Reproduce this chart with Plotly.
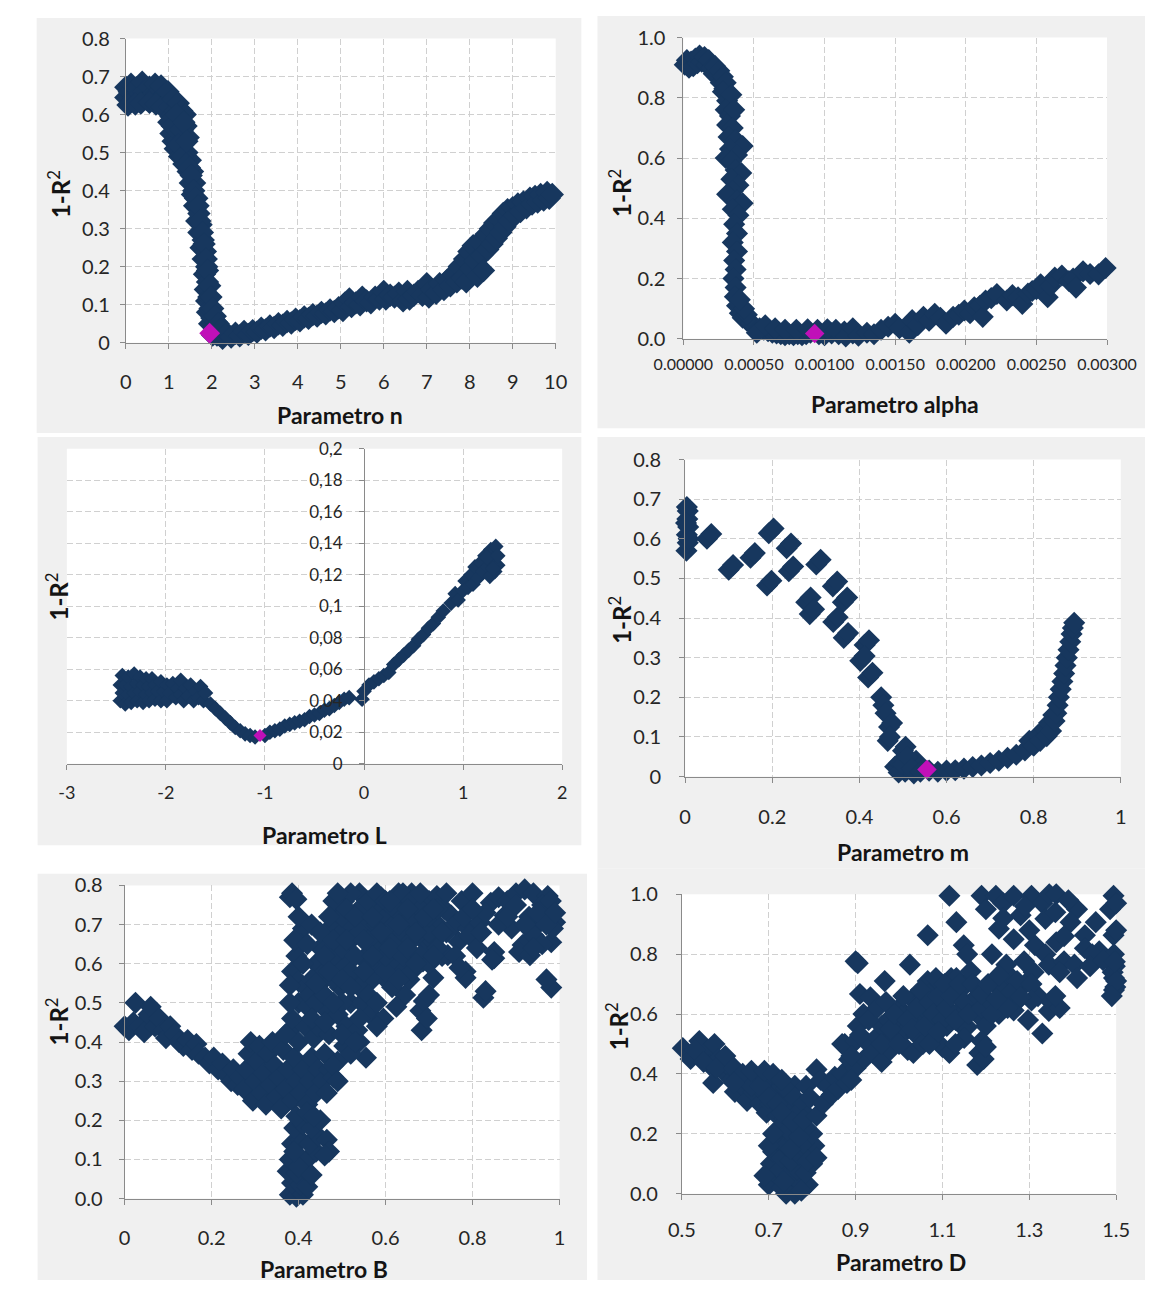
import plotly.graph_objects as go

# ---------------------------------------------------------------------------
# Sensitivity sweeps: (parameter value, 1 - R^2)
# ---------------------------------------------------------------------------
n_points = [
    (0.00, 0.645), (0.00, 0.672), (0.08, 0.660), (0.12, 0.680), (0.18, 0.645),
    (0.25, 0.670), (0.30, 0.650), (0.38, 0.685), (0.42, 0.660), (0.48, 0.640),
    (0.55, 0.672), (0.60, 0.650), (0.68, 0.680), (0.72, 0.655), (0.78, 0.640),
    (0.82, 0.675), (0.88, 0.650), (0.92, 0.630), (0.05, 0.625), (0.22, 0.628),
    (0.35, 0.630), (0.55, 0.632), (0.70, 0.628), (0.85, 0.620),
    (0.98, 0.660), (1.02, 0.620), (1.05, 0.595), (1.10, 0.640), (1.12, 0.575),
    (1.15, 0.610), (1.20, 0.560), (1.22, 0.630), (1.25, 0.590), (1.30, 0.610),
    (1.32, 0.560), (1.38, 0.600), (1.40, 0.570), (1.05, 0.550), (1.10, 0.530),
    (1.15, 0.510), (1.20, 0.530), (1.25, 0.490), (1.30, 0.520), (1.35, 0.470),
    (1.38, 0.530), (1.42, 0.500), (1.45, 0.540), (1.45, 0.450), (1.50, 0.480),
    (1.50, 0.420), (1.55, 0.450), (1.55, 0.390), (1.60, 0.420), (1.60, 0.360),
    (1.65, 0.380), (1.65, 0.320), (1.70, 0.340), (1.70, 0.290), (1.75, 0.310),
    (1.75, 0.250), (1.80, 0.270), (1.80, 0.220), (1.85, 0.240), (1.83, 0.180),
    (1.88, 0.200), (1.85, 0.140), (1.90, 0.160), (1.88, 0.110), (1.93, 0.120),
    (1.90, 0.080), (1.96, 0.090), (1.95, 0.050), (2.00, 0.065), (2.05, 0.040),
    (2.10, 0.055), (2.02, 0.020), (2.12, 0.020),
    (1.00, 0.580), (1.08, 0.570), (1.18, 0.600), (1.28, 0.560), (1.35, 0.580),
    (1.22, 0.520), (1.32, 0.490), (1.40, 0.470), (1.42, 0.530), (1.48, 0.460),
    (1.52, 0.440), (1.58, 0.400), (1.62, 0.380), (1.68, 0.360), (1.72, 0.320),
    (1.78, 0.290), (1.82, 0.260), (1.87, 0.220), (1.90, 0.190), (1.95, 0.150),
    (1.98, 0.120), (2.02, 0.090), (2.08, 0.070), (2.15, 0.050), (2.18, 0.020),
    (2.20, 0.035), (2.25, 0.012), (2.35, 0.025), (2.45, 0.015), (2.55, 0.025),
    (2.65, 0.018), (2.75, 0.030), (2.85, 0.022), (2.95, 0.032), (3.05, 0.028),
    (3.15, 0.038), (3.25, 0.034), (3.35, 0.044), (3.45, 0.040), (3.55, 0.050),
    (3.65, 0.046), (3.75, 0.056), (3.85, 0.052), (3.95, 0.062), (4.05, 0.058),
    (4.15, 0.068), (4.25, 0.064), (4.35, 0.074), (4.45, 0.070), (4.55, 0.080),
    (4.65, 0.076), (4.75, 0.086), (4.85, 0.082), (4.95, 0.092), (5.05, 0.085),
    (5.10, 0.105), (5.20, 0.115), (5.25, 0.095), (5.35, 0.105), (5.45, 0.100),
    (5.50, 0.120), (5.60, 0.110), (5.70, 0.105), (5.80, 0.120), (5.90, 0.115),
    (6.00, 0.135), (6.05, 0.115), (6.15, 0.125), (6.25, 0.120), (6.35, 0.130),
    (6.45, 0.110), (6.55, 0.135), (6.60, 0.115), (6.70, 0.125), (6.80, 0.135),
    (6.90, 0.125), (7.00, 0.155), (7.05, 0.120), (7.12, 0.140), (7.22, 0.130),
    (7.30, 0.155), (7.40, 0.140), (7.48, 0.165), (7.55, 0.150), (7.62, 0.180),
    (7.70, 0.160), (7.75, 0.200), (7.82, 0.170), (7.88, 0.220), (7.92, 0.160),
    (7.98, 0.240), (8.02, 0.195), (8.08, 0.255), (8.12, 0.215), (8.18, 0.175),
    (8.22, 0.265), (8.28, 0.230), (8.32, 0.190), (8.38, 0.285), (8.42, 0.245),
    (8.48, 0.300), (8.52, 0.260), (8.58, 0.315), (8.62, 0.275), (8.68, 0.325),
    (8.72, 0.290), (8.78, 0.340), (8.82, 0.305), (8.88, 0.350), (8.92, 0.320),
    (9.00, 0.355), (9.05, 0.335), (9.12, 0.365), (9.18, 0.345), (9.25, 0.370),
    (9.32, 0.355), (9.40, 0.380), (9.45, 0.365), (9.52, 0.385), (9.58, 0.370),
    (9.65, 0.390), (9.72, 0.375), (9.80, 0.395), (9.85, 0.380), (9.92, 0.390),
]
n_best = (1.95, 0.025)

alpha_points = [
    (0.000010, 0.910), (0.000025, 0.925), (0.000040, 0.900), (0.000055, 0.920),
    (0.000070, 0.905), (0.000085, 0.930), (0.000100, 0.915), (0.000115, 0.940),
    (0.000130, 0.920), (0.000150, 0.935), (0.000165, 0.910), (0.000180, 0.925),
    (0.000200, 0.900), (0.000215, 0.880), (0.000225, 0.905), (0.000240, 0.870),
    (0.000255, 0.890), (0.000265, 0.850), (0.000280, 0.870), (0.000290, 0.830),
    (0.000300, 0.850), (0.000280, 0.820), (0.000310, 0.790), (0.000340, 0.810),
    (0.000300, 0.760), (0.000330, 0.740), (0.000360, 0.760), (0.000310, 0.710),
    (0.000350, 0.700), (0.000320, 0.670), (0.000370, 0.660), (0.000420, 0.640),
    (0.000330, 0.630), (0.000380, 0.610), (0.000300, 0.600), (0.000340, 0.590),
    (0.000370, 0.560), (0.000410, 0.550), (0.000340, 0.530), (0.000390, 0.510),
    (0.000350, 0.490), (0.000310, 0.480), (0.000380, 0.460), (0.000420, 0.450),
    (0.000350, 0.430), (0.000390, 0.410), (0.000360, 0.380), (0.000380, 0.350),
    (0.000350, 0.320), (0.000380, 0.290), (0.000360, 0.260), (0.000370, 0.230),
    (0.000355, 0.200), (0.000370, 0.170), (0.000365, 0.140), (0.000380, 0.110),
    (0.000400, 0.085), (0.000420, 0.070), (0.000450, 0.060), (0.000480, 0.050),
    (0.000510, 0.040), (0.000540, 0.035), (0.000570, 0.030), (0.000600, 0.025),
    (0.000630, 0.020), (0.000660, 0.018), (0.000690, 0.015), (0.000720, 0.012),
    (0.000750, 0.015), (0.000780, 0.012), (0.000810, 0.015), (0.000840, 0.012),
    (0.000870, 0.015), (0.000900, 0.020), (0.000960, 0.015), (0.001000, 0.012),
    (0.001050, 0.018), (0.001100, 0.015), (0.001140, 0.024), (0.001200, 0.018),
    (0.000520, 0.020), (0.000580, 0.045), (0.000650, 0.035), (0.000720, 0.030),
    (0.000800, 0.030), (0.000880, 0.032), (0.000950, 0.030), (0.001020, 0.032),
    (0.001080, 0.030), (0.001150, 0.008), (0.001200, 0.035), (0.000450, 0.080),
    (0.000430, 0.100), (0.000400, 0.130),
    (0.001240, 0.010), (0.001300, 0.020), (0.001350, 0.015), (0.001400, 0.030),
    (0.001450, 0.040), (0.001500, 0.050), (0.001530, 0.035), (0.001600, 0.020),
    (0.001620, 0.062), (0.001660, 0.045), (0.001700, 0.073), (0.001740, 0.060),
    (0.001780, 0.083), (0.001820, 0.070), (0.001860, 0.050), (0.001910, 0.073),
    (0.001950, 0.080), (0.001990, 0.094), (0.002030, 0.085), (0.002060, 0.105),
    (0.002100, 0.110), (0.002120, 0.073), (0.002140, 0.127), (0.002180, 0.135),
    (0.002220, 0.149), (0.002290, 0.127), (0.002330, 0.145), (0.002370, 0.138),
    (0.002400, 0.116), (0.002440, 0.150), (0.002470, 0.159), (0.002500, 0.165),
    (0.002530, 0.181), (0.002580, 0.138), (0.002600, 0.175), (0.002630, 0.203),
    (0.002680, 0.210), (0.002730, 0.192), (0.002760, 0.200), (0.002780, 0.170),
    (0.002830, 0.224), (0.002880, 0.215), (0.002940, 0.214), (0.002990, 0.235),
    (0.003010, 0.200),
]
alpha_best = (0.00093, 0.018)

L_points = [
    (-2.46, 0.040), (-2.46, 0.050), (-2.44, 0.045), (-2.44, 0.056), (-2.41, 0.038),
    (-2.41, 0.050), (-2.38, 0.044), (-2.38, 0.055), (-2.35, 0.039), (-2.35, 0.049),
    (-2.32, 0.045), (-2.32, 0.057), (-2.29, 0.040), (-2.29, 0.051), (-2.26, 0.046),
    (-2.26, 0.055), (-2.23, 0.039), (-2.23, 0.050), (-2.20, 0.044), (-2.20, 0.054),
    (-2.17, 0.040), (-2.17, 0.049), (-2.14, 0.045), (-2.14, 0.054), (-2.11, 0.041),
    (-2.11, 0.050), (-2.08, 0.046), (-2.05, 0.040), (-2.05, 0.052), (-2.02, 0.046),
    (-1.99, 0.040), (-1.99, 0.050), (-1.96, 0.045), (-1.93, 0.051), (-1.90, 0.042),
    (-1.88, 0.048), (-1.85, 0.044), (-1.85, 0.053), (-1.82, 0.040), (-1.80, 0.048),
    (-1.77, 0.043), (-1.75, 0.050), (-1.72, 0.040), (-1.70, 0.046), (-1.67, 0.042),
    (-1.65, 0.049), (-1.62, 0.040), (-1.60, 0.045),
    (-1.55, 0.038), (-1.50, 0.035), (-1.45, 0.032), (-1.40, 0.029), (-1.35, 0.026),
    (-1.30, 0.023), (-1.25, 0.021), (-1.20, 0.019), (-1.15, 0.018), (-1.10, 0.017),
    (-1.00, 0.018), (-0.95, 0.020), (-0.90, 0.021), (-0.85, 0.022), (-0.80, 0.024),
    (-0.75, 0.025), (-0.70, 0.026), (-0.65, 0.027), (-0.60, 0.028), (-0.55, 0.030),
    (-0.50, 0.031), (-0.45, 0.032), (-0.40, 0.034), (-0.35, 0.035), (-0.30, 0.037),
    (-0.25, 0.039), (-0.20, 0.041), (-0.15, 0.042), (-0.02, 0.041), (0.00, 0.046),
    (0.05, 0.050), (0.10, 0.052), (0.15, 0.054), (0.20, 0.056), (0.25, 0.058),
    (0.30, 0.063), (0.35, 0.066), (0.40, 0.069), (0.45, 0.072), (0.50, 0.075),
    (0.55, 0.079), (0.60, 0.082), (0.65, 0.086), (0.70, 0.089), (0.75, 0.093),
    (0.80, 0.097), (0.88, 0.102), (0.92, 0.108), (0.95, 0.104), (1.00, 0.110),
    (1.02, 0.116), (1.05, 0.112), (1.08, 0.120), (1.10, 0.114), (1.12, 0.125),
    (1.15, 0.118), (1.18, 0.128), (1.20, 0.122), (1.22, 0.132), (1.25, 0.125),
    (1.28, 0.136), (1.30, 0.130), (1.32, 0.122), (1.33, 0.138), (1.35, 0.126),
    (1.27, 0.119), (1.24, 0.131), (1.30, 0.124), (1.35, 0.132),
]
L_best = (-1.05, 0.018)

m_points = [
    (0.003, 0.570), (0.006, 0.590), (0.004, 0.610), (0.007, 0.630), (0.005, 0.650),
    (0.006, 0.670), (0.004, 0.680), (0.008, 0.600), (0.002, 0.640),
    (0.050, 0.600), (0.060, 0.612), (0.100, 0.522), (0.110, 0.534),
    (0.150, 0.552), (0.160, 0.564), (0.192, 0.614), (0.203, 0.626),
    (0.188, 0.482), (0.198, 0.494), (0.233, 0.576), (0.243, 0.588),
    (0.238, 0.518), (0.248, 0.530), (0.301, 0.535), (0.311, 0.547),
    (0.278, 0.440), (0.288, 0.452), (0.286, 0.410), (0.296, 0.422),
    (0.339, 0.480), (0.349, 0.492), (0.362, 0.440), (0.372, 0.452),
    (0.340, 0.390), (0.350, 0.402), (0.364, 0.350), (0.374, 0.362),
    (0.412, 0.332), (0.422, 0.344), (0.402, 0.292), (0.412, 0.304),
    (0.420, 0.250), (0.430, 0.262), (0.450, 0.200), (0.455, 0.180),
    (0.460, 0.160), (0.468, 0.125), (0.475, 0.135), (0.465, 0.090),
    (0.470, 0.100), (0.500, 0.065), (0.506, 0.075), (0.482, 0.025),
    (0.492, 0.035), (0.505, 0.012), (0.515, 0.020), (0.490, 0.010),
    (0.500, 0.030), (0.525, 0.008), (0.530, 0.040), (0.510, 0.050),
    (0.520, 0.020), (0.540, 0.012), (0.560, 0.015), (0.580, 0.012),
    (0.600, 0.015), (0.620, 0.016), (0.640, 0.020), (0.660, 0.024),
    (0.680, 0.028), (0.700, 0.034), (0.720, 0.040), (0.740, 0.047),
    (0.760, 0.055), (0.780, 0.066), (0.790, 0.090), (0.800, 0.078),
    (0.810, 0.105), (0.815, 0.090), (0.825, 0.120), (0.830, 0.102),
    (0.835, 0.135), (0.840, 0.115), (0.845, 0.155), (0.848, 0.140),
    (0.852, 0.160), (0.855, 0.180), (0.858, 0.200), (0.862, 0.220),
    (0.866, 0.240), (0.870, 0.260), (0.873, 0.280), (0.876, 0.300),
    (0.880, 0.320), (0.884, 0.340), (0.887, 0.360), (0.890, 0.375),
    (0.893, 0.388),
]
m_best = (0.555, 0.018)

B_points = [
    (0.000, 0.440), (0.010, 0.430), (0.020, 0.450), (0.025, 0.500), (0.035, 0.440),
    (0.045, 0.425), (0.055, 0.470), (0.060, 0.490), (0.070, 0.440), (0.080, 0.460),
    (0.090, 0.430), (0.095, 0.410), (0.105, 0.440), (0.115, 0.420), (0.125, 0.400),
    (0.135, 0.390), (0.145, 0.405), (0.155, 0.380), (0.165, 0.395), (0.170, 0.370),
    (0.185, 0.360), (0.195, 0.345), (0.205, 0.360), (0.215, 0.330), (0.225, 0.345),
    (0.235, 0.315), (0.245, 0.300), (0.250, 0.330), (0.260, 0.290), (0.265, 0.310),
    (0.275, 0.280), (0.280, 0.330), (0.285, 0.370), (0.290, 0.400), (0.295, 0.250),
    (0.300, 0.300), (0.305, 0.350), (0.310, 0.390), (0.315, 0.270), (0.320, 0.320),
    (0.325, 0.240), (0.330, 0.370), (0.335, 0.290), (0.340, 0.400), (0.345, 0.340),
    (0.350, 0.260), (0.355, 0.310), (0.360, 0.230), (0.365, 0.380), (0.370, 0.280),
    (0.375, 0.330), (0.380, 0.430), (0.385, 0.250), (0.390, 0.360), (0.395, 0.300),
    (0.400, 0.400), (0.405, 0.270), (0.410, 0.330), (0.415, 0.440), (0.420, 0.240),
    (0.425, 0.300), (0.430, 0.360), (0.435, 0.410), (0.440, 0.270), (0.445, 0.330),
    (0.455, 0.300), (0.460, 0.370), (0.470, 0.330), (0.480, 0.310), (0.490, 0.350),
    (0.380, 0.010), (0.395, 0.005), (0.410, 0.010), (0.385, 0.040), (0.405, 0.035),
    (0.420, 0.030), (0.375, 0.070), (0.395, 0.065), (0.415, 0.075), (0.380, 0.100),
    (0.400, 0.110), (0.420, 0.100), (0.440, 0.120), (0.385, 0.140), (0.405, 0.150),
    (0.425, 0.140), (0.445, 0.160), (0.465, 0.150), (0.470, 0.120), (0.390, 0.180),
    (0.410, 0.190), (0.430, 0.180), (0.450, 0.200), (0.395, 0.210), (0.420, 0.220),
    (0.460, 0.110), (0.400, 0.080), (0.430, 0.060), (0.390, 0.120), (0.435, 0.210),
    (0.380, 0.770), (0.385, 0.780), (0.395, 0.765), (0.410, 0.690), (0.405, 0.650),
    (0.395, 0.620), (0.385, 0.580), (0.400, 0.555), (0.415, 0.540), (0.380, 0.545),
    (0.370, 0.420), (0.385, 0.460), (0.400, 0.500), (0.420, 0.490), (0.440, 0.600),
    (0.455, 0.555), (0.425, 0.520), (0.445, 0.440), (0.465, 0.480), (0.450, 0.640),
    (0.460, 0.580), (0.480, 0.700), (0.490, 0.730), (0.500, 0.680), (0.505, 0.760),
    (0.515, 0.620), (0.520, 0.700), (0.495, 0.540), (0.490, 0.470), (0.520, 0.500),
    (0.505, 0.390), (0.480, 0.340), (0.490, 0.300), (0.465, 0.270), (0.510, 0.440),
    (0.525, 0.560), (0.500, 0.600), (0.540, 0.780), (0.550, 0.720), (0.560, 0.700),
    (0.555, 0.620), (0.570, 0.560), (0.545, 0.500), (0.540, 0.400), (0.555, 0.360),
    (0.520, 0.370), (0.535, 0.430), (0.565, 0.470), (0.580, 0.640), (0.590, 0.770),
    (0.600, 0.665), (0.605, 0.555), (0.595, 0.460), (0.580, 0.600), (0.575, 0.740),
    (0.610, 0.720), (0.620, 0.610), (0.630, 0.780), (0.635, 0.660), (0.640, 0.750),
    (0.645, 0.520), (0.650, 0.700), (0.655, 0.560), (0.660, 0.780), (0.665, 0.615),
    (0.670, 0.740), (0.625, 0.490), (0.640, 0.580), (0.615, 0.540), (0.680, 0.480),
    (0.683, 0.430), (0.688, 0.505), (0.695, 0.460), (0.700, 0.520), (0.686, 0.706),
    (0.695, 0.650), (0.710, 0.656), (0.686, 0.606), (0.710, 0.564), (0.700, 0.760),
    (0.720, 0.700), (0.730, 0.620), (0.718, 0.773), (0.735, 0.740), (0.751, 0.723),
    (0.768, 0.656), (0.743, 0.622), (0.784, 0.580), (0.760, 0.700), (0.775, 0.760),
    (0.790, 0.690), (0.800, 0.780), (0.817, 0.706), (0.842, 0.756), (0.792, 0.673),
    (0.850, 0.614), (0.825, 0.513), (0.784, 0.564), (0.830, 0.730), (0.810, 0.640),
    (0.874, 0.723), (0.890, 0.690), (0.915, 0.648), (0.907, 0.630), (0.860, 0.770),
    (0.880, 0.760), (0.850, 0.630), (0.845, 0.610), (0.900, 0.780), (0.920, 0.790),
    (0.940, 0.780), (0.973, 0.773), (0.990, 0.706), (0.948, 0.698), (0.932, 0.622),
    (0.940, 0.673), (0.981, 0.539), (0.981, 0.655), (0.975, 0.740), (0.960, 0.750),
    (0.985, 0.690), (0.930, 0.720),
    (0.480, 0.560), (0.480, 0.620), (0.480, 0.760), (0.500, 0.500), (0.500, 0.640),
    (0.500, 0.720), (0.520, 0.580), (0.520, 0.660), (0.520, 0.780), (0.540, 0.460),
    (0.540, 0.540), (0.540, 0.680), (0.540, 0.740), (0.560, 0.520), (0.560, 0.600),
    (0.560, 0.660), (0.560, 0.760), (0.580, 0.440), (0.580, 0.500), (0.580, 0.700),
    (0.580, 0.780), (0.600, 0.580), (0.600, 0.620), (0.600, 0.720), (0.600, 0.760),
    (0.620, 0.660), (0.620, 0.700), (0.620, 0.740), (0.640, 0.620), (0.640, 0.680),
    (0.640, 0.720), (0.640, 0.780), (0.660, 0.580), (0.660, 0.660), (0.660, 0.720),
    (0.660, 0.760), (0.680, 0.620), (0.680, 0.680), (0.680, 0.740), (0.680, 0.780),
    (0.700, 0.600), (0.700, 0.680), (0.700, 0.720), (0.720, 0.640), (0.720, 0.740),
    (0.740, 0.680), (0.760, 0.620), (0.780, 0.720), (0.800, 0.740), (0.820, 0.680),
    (0.860, 0.700), (0.880, 0.720), (0.900, 0.750), (0.920, 0.700), (0.950, 0.730),
    (0.970, 0.700), (0.980, 0.760), (0.990, 0.730), (0.960, 0.650), (0.770, 0.590),
    (0.830, 0.530), (0.970, 0.560), (0.940, 0.640), (0.440, 0.500), (0.460, 0.520),
    (0.430, 0.560), (0.470, 0.420), (0.500, 0.420), (0.530, 0.400),
    (0.380, 0.500), (0.390, 0.660), (0.400, 0.720), (0.410, 0.600), (0.420, 0.650),
    (0.430, 0.460), (0.430, 0.700), (0.440, 0.550), (0.450, 0.680), (0.460, 0.450),
    (0.460, 0.620), (0.470, 0.580), (0.470, 0.720), (0.480, 0.500), (0.480, 0.660),
    (0.490, 0.780), (0.500, 0.560), (0.510, 0.660), (0.510, 0.740), (0.520, 0.540),
    (0.530, 0.620), (0.530, 0.720), (0.550, 0.580), (0.550, 0.660), (0.570, 0.620),
    (0.570, 0.720), (0.590, 0.680), (0.610, 0.640), (0.610, 0.760), (0.630, 0.700),
    (0.630, 0.560), (0.650, 0.640), (0.650, 0.740), (0.670, 0.680), (0.670, 0.600),
    (0.690, 0.720), (0.710, 0.740), (0.710, 0.620), (0.730, 0.680), (0.740, 0.780),
]

D_points = [
    (0.502, 0.486), (0.520, 0.450), (0.540, 0.510), (0.545, 0.460), (0.560, 0.480),
    (0.564, 0.430), (0.575, 0.500), (0.572, 0.370), (0.585, 0.450), (0.595, 0.410),
    (0.605, 0.430), (0.615, 0.380), (0.622, 0.340), (0.630, 0.400), (0.640, 0.360),
    (0.650, 0.310), (0.655, 0.380), (0.665, 0.340), (0.671, 0.390), (0.680, 0.300),
    (0.688, 0.340), (0.695, 0.270), (0.700, 0.380), (0.704, 0.300), (0.715, 0.340),
    (0.720, 0.260), (0.729, 0.360), (0.735, 0.300), (0.745, 0.330), (0.753, 0.295),
    (0.760, 0.360), (0.737, 0.250), (0.530, 0.480), (0.550, 0.440), (0.580, 0.420),
    (0.600, 0.460), (0.620, 0.420), (0.640, 0.400), (0.660, 0.360), (0.680, 0.360),
    (0.700, 0.320), (0.720, 0.300), (0.740, 0.350), (0.760, 0.320), (0.780, 0.300),
    (0.620, 0.370), (0.660, 0.410), (0.690, 0.410), (0.710, 0.400), (0.730, 0.380),
    (0.700, 0.030), (0.720, 0.060), (0.740, 0.000), (0.750, 0.030), (0.760, 0.000),
    (0.770, 0.040), (0.790, 0.030), (0.705, 0.100), (0.725, 0.080), (0.745, 0.060),
    (0.765, 0.080), (0.785, 0.070), (0.800, 0.100), (0.710, 0.140), (0.730, 0.120),
    (0.750, 0.110), (0.770, 0.130), (0.790, 0.140), (0.805, 0.160), (0.720, 0.180),
    (0.740, 0.160), (0.760, 0.180), (0.780, 0.170), (0.800, 0.200), (0.725, 0.220),
    (0.745, 0.210), (0.765, 0.230), (0.785, 0.220), (0.760, 0.260), (0.730, 0.270),
    (0.790, 0.260), (0.690, 0.060), (0.700, 0.160), (0.710, 0.200), (0.730, 0.020),
    (0.750, 0.150), (0.770, 0.190), (0.790, 0.110), (0.810, 0.120), (0.735, 0.040),
    (0.775, 0.010), (0.755, 0.240), (0.780, 0.245),
    (0.786, 0.360), (0.795, 0.320), (0.810, 0.415), (0.810, 0.260), (0.820, 0.380),
    (0.825, 0.300), (0.836, 0.360), (0.845, 0.330), (0.852, 0.390), (0.860, 0.350),
    (0.870, 0.400), (0.880, 0.370), (0.875, 0.500), (0.885, 0.448), (0.900, 0.420),
    (0.890, 0.380),
    (0.869, 0.500), (0.900, 0.510), (0.905, 0.560), (0.918, 0.600), (0.910, 0.667),
    (0.934, 0.656), (0.900, 0.776), (0.905, 0.770), (0.920, 0.450), (0.930, 0.500),
    (0.940, 0.470), (0.950, 0.525), (0.960, 0.560), (0.967, 0.710), (0.975, 0.580),
    (0.960, 0.440), (0.980, 0.480), (0.990, 0.520), (1.000, 0.620), (1.000, 0.560),
    (1.010, 0.600), (1.017, 0.546), (1.020, 0.480), (1.025, 0.765), (1.030, 0.650),
    (1.033, 0.470), (1.040, 0.530), (1.045, 0.580), (1.050, 0.634), (1.055, 0.500),
    (1.060, 0.660), (1.066, 0.710), (1.066, 0.863), (1.070, 0.600), (1.075, 0.540),
    (1.080, 0.680), (1.083, 0.557), (1.090, 0.620), (1.095, 0.700), (1.100, 0.490),
    (1.100, 0.650), (1.107, 0.644), (1.110, 0.560), (1.116, 0.470), (1.116, 0.995),
    (1.120, 0.720), (1.125, 0.600), (1.132, 0.720), (1.132, 0.907), (1.135, 0.660),
    (1.140, 0.612), (1.145, 0.560), (1.149, 0.830), (1.155, 0.700), (1.157, 0.800),
    (1.157, 0.557), (1.165, 0.743), (1.170, 0.640), (1.180, 0.600),
    (0.890, 0.460), (0.910, 0.530), (0.930, 0.580), (0.950, 0.620), (0.960, 0.500),
    (0.970, 0.640), (0.980, 0.550), (0.990, 0.600), (1.000, 0.500), (1.010, 0.660),
    (1.020, 0.580), (1.030, 0.550), (1.040, 0.620), (1.050, 0.680), (1.060, 0.560),
    (1.070, 0.640), (1.080, 0.600), (1.085, 0.720), (1.090, 0.660), (1.100, 0.580),
    (1.105, 0.700), (1.110, 0.620), (1.120, 0.660), (1.130, 0.580), (1.140, 0.700),
    (1.150, 0.640), (1.160, 0.600), (1.170, 0.700), (1.180, 0.660), (1.190, 0.620),
    (1.200, 0.560), (1.210, 0.640), (1.220, 0.700), (1.230, 0.600), (1.240, 0.680),
    (1.260, 0.720), (1.270, 0.640), (1.290, 0.700), (1.310, 0.740), (1.320, 0.660),
    (1.150, 0.520), (1.130, 0.500), (1.070, 0.500), (1.090, 0.540),
    (1.180, 0.430), (1.185, 0.470), (1.190, 0.510), (1.195, 0.450), (1.200, 0.490),
    (1.190, 0.667), (1.214, 0.600), (1.205, 0.700),
    (1.190, 0.995), (1.223, 0.995), (1.240, 0.970), (1.264, 0.995), (1.230, 0.885),
    (1.264, 0.850), (1.214, 0.800), (1.247, 0.765), (1.288, 0.776), (1.272, 0.710),
    (1.255, 0.667), (1.305, 0.995), (1.330, 0.970), (1.337, 0.918), (1.313, 0.830),
    (1.337, 0.800), (1.362, 0.840), (1.345, 0.765), (1.305, 0.700), (1.297, 0.580),
    (1.330, 0.535), (1.345, 0.610), (1.350, 0.640), (1.370, 0.620), (1.360, 0.660),
    (1.305, 0.645), (1.264, 0.612), (1.280, 0.656), (1.346, 1.000), (1.362, 1.000),
    (1.410, 0.950), (1.395, 0.907), (1.428, 0.863), (1.453, 0.907), (1.486, 0.950),
    (1.494, 0.995), (1.494, 0.863), (1.461, 0.810), (1.428, 0.820), (1.445, 0.800),
    (1.380, 0.776), (1.404, 0.765), (1.495, 0.800), (1.497, 0.760), (1.495, 0.720),
    (1.498, 0.690), (1.492, 0.740), (1.230, 0.730), (1.250, 0.620), (1.225, 0.650),
    (1.280, 0.930), (1.300, 0.880), (1.240, 0.920), (1.380, 0.860), (1.440, 0.760),
    (1.470, 0.780), (1.500, 0.880), (1.500, 0.970), (1.495, 0.680), (1.500, 0.710),
    (1.490, 0.660), (1.497, 0.775), (1.200, 0.950), (1.290, 0.960), (1.360, 0.940),
    (1.390, 0.980), (1.370, 0.740), (1.410, 0.720),
]

# ---------------------------------------------------------------------------
# Tick values and labels
# ---------------------------------------------------------------------------
n_xticks = [0, 1, 2, 3, 4, 5, 6, 7, 8, 9, 10]
n_xlabels = ["0", "1", "2", "3", "4", "5", "6", "7", "8", "9", "10"]
n_yticks = [0, 0.1, 0.2, 0.3, 0.4, 0.5, 0.6, 0.7, 0.8]
n_ylabels = ["0", "0.1", "0.2", "0.3", "0.4", "0.5", "0.6", "0.7", "0.8"]

alpha_xticks = [0, 0.0005, 0.001, 0.0015, 0.002, 0.0025, 0.003]
alpha_xlabels = ["0.00000", "0.00050", "0.00100", "0.00150", "0.00200", "0.00250", "0.00300"]
alpha_yticks = [0, 0.2, 0.4, 0.6, 0.8, 1.0]
alpha_ylabels = ["0.0", "0.2", "0.4", "0.6", "0.8", "1.0"]

L_xticks = [-3, -2, -1, 0, 1, 2]
L_xlabels = ["-3", "-2", "-1", "0", "1", "2"]
L_yticks = [0, 0.02, 0.04, 0.06, 0.08, 0.1, 0.12, 0.14, 0.16, 0.18, 0.2]
L_ylabels = ["0", "0,02", "0,04", "0,06", "0,08", "0,1", "0,12", "0,14", "0,16", "0,18", "0,2"]

m_xticks = [0, 0.2, 0.4, 0.6, 0.8, 1]
m_xlabels = ["0", "0.2", "0.4", "0.6", "0.8", "1"]
m_yticks = [0, 0.1, 0.2, 0.3, 0.4, 0.5, 0.6, 0.7, 0.8]
m_ylabels = ["0", "0.1", "0.2", "0.3", "0.4", "0.5", "0.6", "0.7", "0.8"]

B_xticks = [0, 0.2, 0.4, 0.6, 0.8, 1]
B_xlabels = ["0", "0.2", "0.4", "0.6", "0.8", "1"]
B_yticks = [0, 0.1, 0.2, 0.3, 0.4, 0.5, 0.6, 0.7, 0.8]
B_ylabels = ["0.0", "0.1", "0.2", "0.3", "0.4", "0.5", "0.6", "0.7", "0.8"]

D_xticks = [0.5, 0.7, 0.9, 1.1, 1.3, 1.5]
D_xlabels = ["0.5", "0.7", "0.9", "1.1", "1.3", "1.5"]
D_yticks = [0, 0.2, 0.4, 0.6, 0.8, 1.0]
D_ylabels = ["0.0", "0.2", "0.4", "0.6", "0.8", "1.0"]

# ---------------------------------------------------------------------------
# Styling
# ---------------------------------------------------------------------------
W, H = 1175, 1291
NAVY = "#17375e"
BEST = "#c010b8"
PANEL_BG = "#f0f0f0"
GRID = "#d0d0d0"
AXIS = "#8a8a8a"
TICK_TXT = "#262626"
TITLE_TXT = "#141414"
FONT = "Lato"


def fx(px):
    return px / W


def fy(py):
    return 1 - py / H


# Each panel: chart box, plot box (left, top, right, bottom in pixels), ranges, fonts
panels = [
    dict(pts=n_points, best=n_best, box=(7, 5, 581, 428), plot=(101, 26, 554, 336),
         xr=[0, 10], yr=[0, 0.8], xt=(n_xticks, n_xlabels), yt=(n_yticks, n_ylabels),
         xfs=20, yfs=20, xso=16, yso=6, size=18,
         xtitle="Parametro n", xtpos=(327, 410), ytpos=(30, 184)),
    dict(pts=alpha_points, best=alpha_best, box=(598, 3, 1175, 423), plot=(688.5, 25, 1135, 332),
         xr=[0, 0.003], yr=[0, 1.0], xt=(alpha_xticks, alpha_xlabels), yt=(alpha_yticks, alpha_ylabels),
         xfs=16, yfs=20, xso=6, yso=8, size=17,
         xtitle="Parametro alpha", xtpos=(912, 398), ytpos=(621, 183)),
    dict(pts=L_points, best=L_best, box=(8, 432, 581, 848), plot=(38.8, 444, 560.8, 765),
         xr=[-3, 2], yr=[0, 0.2], xt=(L_xticks, L_xlabels), yt=(L_yticks, L_ylabels),
         xfs=18, yfs=17, xso=8, yso=13, size=12, yfree=352,
         xtitle="Parametro L", xtpos=(310, 838), ytpos=(28, 595)),
    dict(pts=m_points, best=m_best, box=(598, 432, 1175, 872), plot=(690.4, 455, 1149.5, 778),
         xr=[0, 1], yr=[0, 0.8], xt=(m_xticks, m_xlabels), yt=(m_yticks, m_ylabels),
         xfs=20, yfs=20, xso=17, yso=14, size=17,
         xtitle="Parametro m", xtpos=(920, 855), ytpos=(621, 618)),
    dict(pts=B_points, best=None, box=(8, 877, 587, 1291), plot=(99.7, 889, 558, 1208),
         xr=[0, 1], yr=[0, 0.8], xt=(B_xticks, B_xlabels), yt=(B_yticks, B_ylabels),
         xfs=20, yfs=20, xso=16, yso=12, size=17,
         xtitle="Parametro B", xtpos=(310, 1280), ytpos=(28, 1028)),
    dict(pts=D_points, best=None, box=(598, 872, 1175, 1291), plot=(687, 898, 1144.6, 1203),
         xr=[0.5, 1.5], yr=[0, 1.0], xt=(D_xticks, D_xlabels), yt=(D_yticks, D_ylabels),
         xfs=20, yfs=20, xso=13, yso=14, size=17,
         xtitle="Parametro D", xtpos=(918, 1273), ytpos=(618, 1032)),
]

fig = go.Figure()
layout = dict(
    width=W, height=H, margin=dict(l=0, r=0, t=0, b=0),
    paper_bgcolor="white", plot_bgcolor="white", showlegend=False,
    font=dict(family=FONT, color=TICK_TXT),
)
shapes = []
annotations = []

for i, p in enumerate(panels, start=1):
    sfx = "" if i == 1 else str(i)
    xa, ya = "x" + sfx, "y" + sfx
    l, t, r, b = p["plot"]
    bl, bt, br, bb = p["box"]

    # chart area background, then white plotting area on top of it
    shapes.append(dict(type="rect", xref="paper", yref="paper", layer="below",
                       x0=fx(bl), x1=fx(br), y0=fy(bb), y1=fy(bt),
                       fillcolor=PANEL_BG, line=dict(width=0)))
    shapes.append(dict(type="rect", xref="paper", yref="paper", layer="below",
                       x0=fx(l), x1=fx(r), y0=fy(b), y1=fy(t),
                       fillcolor="white", line=dict(width=0)))

    common = dict(showline=True, linecolor=AXIS, linewidth=1,
                  ticks="outside", ticklen=5, tickcolor=AXIS, tickwidth=1,
                  showgrid=True, gridcolor=GRID, gridwidth=1, griddash="6px,3px",
                  zeroline=False, tickmode="array", fixedrange=True)
    layout["xaxis" + sfx] = dict(
        common, domain=[fx(l), fx(r)], anchor=ya, range=p["xr"],
        tickvals=p["xt"][0], ticktext=p["xt"][1],
        tickfont=dict(family=FONT, size=p["xfs"], color=TICK_TXT),
        ticklabelstandoff=p["xso"])
    yax = dict(
        common, domain=[fy(b), fy(t)], range=p["yr"],
        tickvals=p["yt"][0], ticktext=p["yt"][1],
        tickfont=dict(family=FONT, size=p["yfs"], color=TICK_TXT),
        ticklabelstandoff=p["yso"])
    if "yfree" in p:
        yax.update(anchor="free", position=fx(p["yfree"]))
    else:
        yax.update(anchor=xa)
    layout["yaxis" + sfx] = yax

    xs = [q[0] for q in p["pts"]]
    ys = [q[1] for q in p["pts"]]
    fig.add_trace(go.Scatter(
        x=xs, y=ys, xaxis=xa, yaxis=ya, mode="markers", cliponaxis=False,
        marker=dict(symbol="diamond", size=p["size"], color=NAVY, line=dict(width=0)),
        hoverinfo="x+y"))
    if p["best"] is not None:
        fig.add_trace(go.Scatter(
            x=[p["best"][0]], y=[p["best"][1]], xaxis=xa, yaxis=ya, mode="markers",
            cliponaxis=False,
            marker=dict(symbol="diamond", size=p["size"] - 2, color=BEST, line=dict(width=0)),
            hoverinfo="x+y"))

    annotations.append(dict(
        xref="paper", yref="paper", x=fx(p["xtpos"][0]), y=fy(p["xtpos"][1]),
        xanchor="center", yanchor="middle", showarrow=False,
        text="<b>" + p["xtitle"] + "</b>",
        font=dict(family=FONT, size=23, color=TITLE_TXT)))
    annotations.append(dict(
        xref="paper", yref="paper", x=fx(p["ytpos"][0]), y=fy(p["ytpos"][1]),
        xanchor="center", yanchor="middle", showarrow=False, textangle=-90,
        text="<b>1-R</b><sup>2</sup>",
        font=dict(family=FONT, size=24, color=TITLE_TXT)))

layout["shapes"] = shapes
layout["annotations"] = annotations
fig.update_layout(**layout)
fig.write_html("out.html")
